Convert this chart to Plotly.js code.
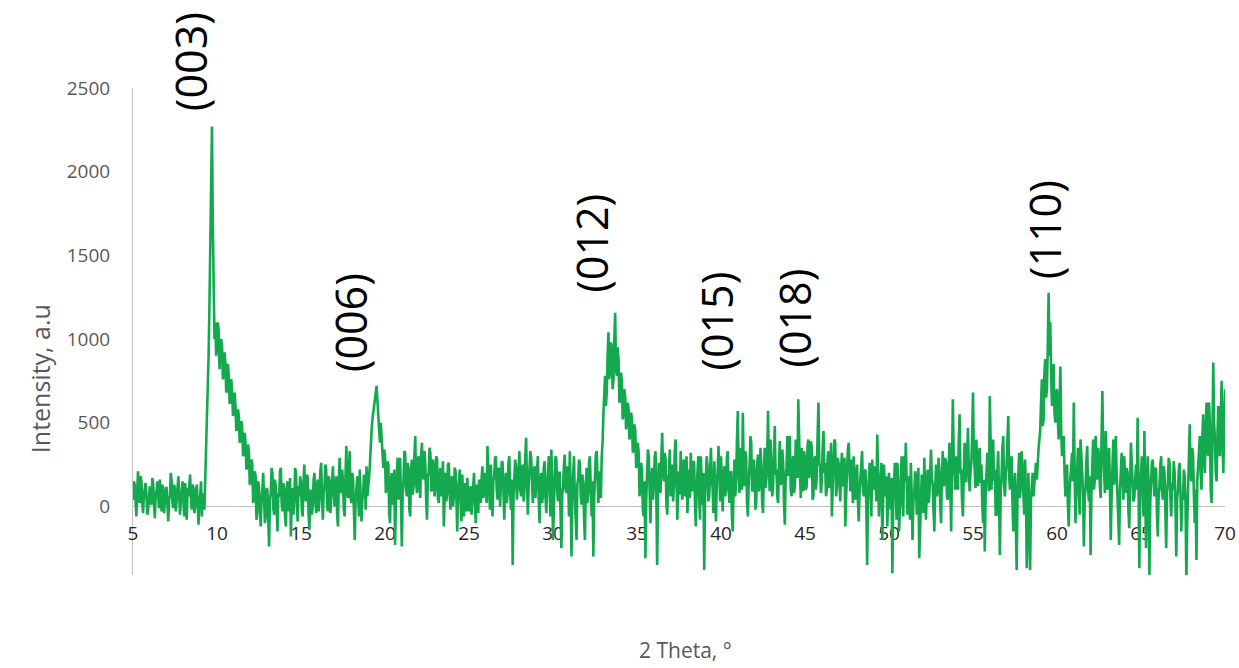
<!DOCTYPE html>
<html>
<head>
<meta charset="utf-8">
<script src="https://cdn.plot.ly/plotly-3.0.1.min.js"></script>
<style>html,body{margin:0;padding:0;background:#fff;}#chart{width:1239px;height:668px;}</style>
</head>
<body>
<div id="chart"></div>
<script>
// 2 Theta starts at 5.00 deg, sampled every 0.05 deg
var thetaStart = 5.0;
var thetaStep = 0.05;

// Intensity (a.u.), 20 values per degree
var intensity05to15 = [
  40, 150, 130, -20, -60, 90, 210, 60, 20, 180, 150, 30, -40, 70, 110, 140, 60, -50, -20, 100,
  120, 40, 10, 170, 140, 20, -70, 60, 90, 150, 30, -10, 160, 90, -30, 130, 80, -40, 20, 110,
  110, 0, -90, 40, 70, 200, 150, 20, -10, 130, 100, -30, 40, 160, 180, 60, -50, 40, 90, 150,
  30, -60, 140, 80, -80, 110, 60, 170, 190, 40, -20, 130, 110, -40, 0, 90, 130, 20, -110, 30,
  60, 150, -60, 80, 50, -20, 150, 300, 550, 750, 900, 1200, 1500, 1900, 2270, 1700, 1350, 1000, 1100, 900,
  950, 1100, 1050, 820, 880, 1000, 960, 760, 780, 920, 860, 680, 700, 850, 780, 620, 620, 760, 680, 540,
  560, 680, 600, 450, 470, 580, 540, 380, 400, 510, 470, 300, 330, 440, 380, 220, 240, 370, 330, 130,
  150, 280, 250, 20, 60, 210, 180, -80, -40, 150, 120, -60, -120, 40, 90, 200, 20, -100, -60, 110,
  100, -80, -240, 40, 80, 230, 200, -10, -50, 160, 120, -20, -150, 80, 60, 210, 230, 20, -30, 140,
  90, -60, -120, 110, 150, -30, 20, 170, -180, 40, 110, -50, 40, 230, 200, 30, -90, 120, 60, 180
];
var intensity15to25 = [
  130, -20, -60, 150, 250, 60, 30, 190, 170, -40, -140, 100, 80, -50, 10, 160, 200, 50, -40, 120,
  160, -30, 40, 210, 260, 70, -80, 90, 120, 250, 220, 10, -30, 180, 150, -40, 60, 200, 240, 90,
  0, 130, 180, -50, -120, 150, 290, 100, 80, 220, 140, -20, -60, 190, 360, 120, 50, 210, 330, 60,
  20, 200, 160, -30, -200, 40, 100, 180, 60, -60, 220, 70, -90, 40, 80, 190, 150, -20, 240, 60,
  100, 170, 250, 380, 450, 520, 560, 610, 660, 700, 720, 630, 540, 450, 380, 500, 420, 300, 230, 340,
  300, 80, 120, 270, 250, -40, -100, 150, 200, 10, 60, 220, -230, 50, 180, 290, 40, 160, 290, 60,
  -240, 80, 150, 330, 320, 100, 60, 260, 230, -20, -60, 210, 280, 70, 120, 300, 420, 150, 80, 260,
  300, 120, 50, 310, 380, 190, 160, 330, 250, 40, -80, 180, 200, 350, 320, 90, 100, 280, 240, 60,
  120, 300, 280, 50, 20, 190, 230, 60, 150, 270, -120, 80, 200, 30, 90, 250, 260, 70, -20, 160,
  180, 0, 60, 230, 210, 50, -150, 90, 140, 220, 30, -90, 190, 90, -60, 140, 100, -30, 170, 60
];
var intensity25to35 = [
  -30, 90, 120, -50, 60, 180, 200, 30, -100, 130, 90, -40, 160, 60, 20, 170, 240, 50, 90, 200,
  150, 20, 360, 200, 80, -20, 250, 120, -60, 150, 180, 290, 300, 100, 40, 230, 220, 0, 110, 270,
  260, 90, -80, 130, 200, 20, 90, 260, 300, 80, -20, 160, -350, 60, 150, 280, 230, 40, 120, 250,
  330, 100, 60, 220, 250, 30, 110, 300, 410, 150, -50, 120, 200, 330, 290, 80, 20, 190, 240, 50,
  130, 250, 300, 40, -100, 150, 200, 20, 60, 230, 270, 70, -40, 110, 180, 300, 90, -60, 340, 160,
  -200, 60, 160, 300, 280, 90, 30, 200, 200, -50, -250, 70, 120, 250, 310, 100, 80, 240, 190, -60,
  330, 110, -300, 80, 220, 300, 50, -100, -200, 130, 170, 280, 260, 60, 10, 190, 140, -80, -200, 100,
  230, 20, 90, 270, 300, 100, -60, 150, -300, 40, 180, 310, 330, 100, 20, 210, 150, 50, 300, 380,
  550, 660, 780, 600, 680, 900, 1040, 760, 820, 980, 950, 700, 760, 1000, 1157, 820, 780, 950, 880, 620,
  640, 800, 740, 520, 560, 700, 650, 460, 500, 620, 580, 400, 430, 560, 520, 320, 360, 490, 450, 230
];
var intensity35to45 = [
  250, 380, 320, 60, 100, 260, 200, -20, -60, 150, -310, 40, 150, 340, 300, 60, -100, 120, 230, 40,
  120, 290, 330, 80, -350, 60, 260, 140, 80, 300, 440, 210, 150, 320, 280, 20, -50, 160, 200, 340,
  60, 210, 250, 30, 130, 330, 400, 160, -80, 110, 210, 70, 330, 200, 40, 240, 280, 60, 150, 300,
  -40, 130, 220, 50, 320, 180, 90, 270, 260, 20, -120, 100, 180, 300, 60, -80, 300, 150, 10, 200,
  -380, 50, 180, 300, 240, 30, 60, 210, 350, 160, 110, -40, 270, 130, -90, 150, 200, 360, 140, 30,
  300, 120, -30, 180, 240, 60, 100, 290, 330, 110, 20, 200, 210, -60, -150, 130, 280, 60, 160, 400,
  570, 200, 80, 310, 350, 100, 560, 240, 120, 330, 290, 20, -60, 150, 240, 420, 380, 90, 100, 280,
  200, -20, 30, 250, 310, 90, 130, 350, 250, 20, -40, 190, 350, 110, 160, 300, 570, 220, 90, 400,
  280, 60, 120, 330, 480, 190, 220, 60, 20, 250, 390, 130, 150, 340, 260, 20, -110, 180, 230, 420,
  180, 300, 420, 100, 60, 260, 300, 80, 130, 400, 250, 170, 640, 300, 200, 50, 350, 200, 90, 330
];
var intensity45to55 = [
  280, 100, 120, 360, 400, 170, 220, 390, 350, 40, 60, 280, 300, 100, 180, 420, 620, 260, 240, 80,
  150, 350, 450, 200, 260, 60, 100, 300, 330, 110, 200, 380, -60, 120, 280, 400, 380, 60, 120, 290,
  260, 80, 30, 230, 320, 120, 170, 290, -120, 60, 250, 340, 380, 150, 90, 280, 200, 20, 300, 150,
  40, 180, 250, 30, -90, 90, 180, 310, 330, 100, 60, 210, 220, 0, -350, 80, 150, 260, 90, -60,
  280, 130, 100, 240, 200, 30, 430, 190, -60, 80, 170, 260, -200, 40, 250, 120, 60, 180, -120, 60,
  200, 50, -20, 170, -400, 20, 150, 260, 100, -80, 260, 120, -150, 60, 180, 300, 40, -60, 300, 150,
  380, 90, -50, 180, 120, -80, 260, 80, -200, 30, 60, 210, 180, -50, 100, 230, -310, -100, 20, 190,
  150, -40, 290, 120, -80, 100, 220, 20, 60, 200, 340, 170, 130, -30, -150, 110, 250, 60, 100, 290,
  200, 10, -100, 200, 330, 120, 150, 290, 260, 60, 40, 230, 380, 120, -150, 250, 640, 300, 200, 100,
  300, 150, 100, 380, 550, 200, 220, 30, -60, 200, 380, 150, 150, 320, 470, 230, 90, 200, 260, 420
];
var intensity55to70 = [
  680, 320, 200, 110, 400, 220, 120, 300, 350, 140, 250, 20, -100, 160, -270, 60, 150, 320, 280, 90,
  660, 250, 100, 300, 400, 150, 220, -50, -50, 200, 330, 40, -290, 100, 180, 350, 420, 130, 60, 190,
  250, 400, 540, 180, 100, 240, 300, 20, -150, 120, 200, -100, -380, 80, 240, 320, 50, 140, 330, 200,
  120, -50, 280, 100, -370, 60, 200, -100, -380, 40, 130, 200, 60, 150, 190, 260, 160, 300, 340, 400,
  450, 620, 760, 480, 520, 800, 880, 650, 700, 950, 1277, 900, 1100, 800, 600, 750, 850, 560, 500, 650,
  700, 520, 400, 600, 835, 450, 300, 350, 420, 200, 60, 150, 250, 0, -120, 100, 180, 280, 320, 150,
  620, 200, -100, 100, 250, 350, 80, -50, 400, 230, 200, 60, -240, 50, 120, 280, 360, 100, 30, 180,
  -290, 80, 250, 400, 100, 160, 420, 200, 160, 350, 300, 120, 50, 400, 690, 350, 200, 80, 450, 250,
  100, 220, 350, 120, -200, 60, 280, 400, 130, 250, 420, 200, 60, -50, -230, 100, 250, 320, 180, 40,
  300, 150, 80, 230, 200, -20, -130, 140, 380, 260, 160, 30, 50, 200, 250, 100, 530, 150, -370, 60,
  200, 300, 100, -60, 450, 200, -250, 60, 300, 150, -420, 20, 150, 260, 280, 100, 60, 230, 220, -50,
  -180, 60, 120, 250, 300, 100, 40, 240, 200, -30, -250, 80, 150, 290, 260, 50, -60, 140, 100, 270,
  200, 20, -300, 40, 100, 220, 260, 80, -150, 60, 40, 220, 180, 20, -440, -100, 100, 330, 490, 200,
  150, 350, 300, 60, -100, 100, -320, 150, 250, 380, 420, 200, 100, 400, 550, 300, 200, 450, 620, 350,
  300, 620, 500, 100, 20, 400, 860, 500, 400, 200, 150, 420, 600, 350, 300, 550, 750, 400, 200, 500,
  700
];

// Peak labels (Miller indices) and their 2 Theta positions
var peakLabels = ["(003)", "(006)", "(012)", "(015)", "(018)", "(110)"];
var peakTheta = [8.39, 17.92, 32.32, 39.76, 44.40, 59.23];

var xTickVals = [5, 10, 15, 20, 25, 30, 35, 40, 45, 50, 55, 60, 65, 70];
var yTickVals = [0, 500, 1000, 1500, 2000, 2500];

var intensity = [].concat(intensity05to15, intensity15to25, intensity25to35,
                          intensity35to45, intensity45to55, intensity55to70);

// label vertical placement (paper fraction of plot height)
var labelY = [1.055, 0.517, 0.682, 0.522, 0.528, 0.708];

var yMin = -410, yMax = 2500;

var trace = {
  type: 'scatter',
  mode: 'lines',
  x0: thetaStart,
  dx: thetaStep,
  y: intensity,
  line: {color: '#14a84f', width: 2.6},
  hoverinfo: 'x+y'
};

var annotations = peakLabels.map(function (t, i) {
  return {
    text: t, x: peakTheta[i], xref: 'x', y: labelY[i], yref: 'paper',
    textangle: -90, showarrow: false, xanchor: 'center', yanchor: 'middle',
    font: {family: 'Open Sans, sans-serif', size: 43, color: '#000'}
  };
});
annotations.push({
  text: 'Intensity, a.u', xref: 'paper', yref: 'paper', x: -0.085, y: 0.4025,
  xanchor: 'center', yanchor: 'middle', textangle: -90, showarrow: false,
  font: {family: 'Open Sans, sans-serif', size: 25, color: '#595959'}
});
annotations.push({
  text: '2 Theta, °', xref: 'paper', yref: 'paper', x: 0.506, y: -0.154,
  xanchor: 'center', yanchor: 'middle', showarrow: false,
  font: {family: 'Open Sans, sans-serif', size: 21, color: '#595959'}
});

var layout = {
  width: 1239, height: 668,
  margin: {l: 133, r: 14, t: 88, b: 93},
  paper_bgcolor: '#fff', plot_bgcolor: '#fff',
  showlegend: false,
  xaxis: {
    range: [5, 70], tickvals: xTickVals, ticks: '',
    showgrid: false, zeroline: false, showline: false,
    anchor: 'free', position: (0 - yMin) / (yMax - yMin),
    ticklabelstandoff: 14, layer: 'below traces',
    tickfont: {family: 'Open Sans, sans-serif', size: 19, color: '#262626'}
  },
  yaxis: {
    range: [yMin, yMax], tickvals: yTickVals, ticks: '',
    showgrid: false, showline: true, linecolor: '#bfbfbf', linewidth: 1,
    zeroline: true, zerolinecolor: '#bfbfbf', zerolinewidth: 1,
    ticklabelstandoff: 18, layer: 'below traces',
    tickfont: {family: 'Open Sans, sans-serif', size: 19, color: '#595959'}
  },
  annotations: annotations
};

Plotly.newPlot('chart', [trace], layout, {displayModeBar: false, staticPlot: true});
</script>
</body>
</html>
